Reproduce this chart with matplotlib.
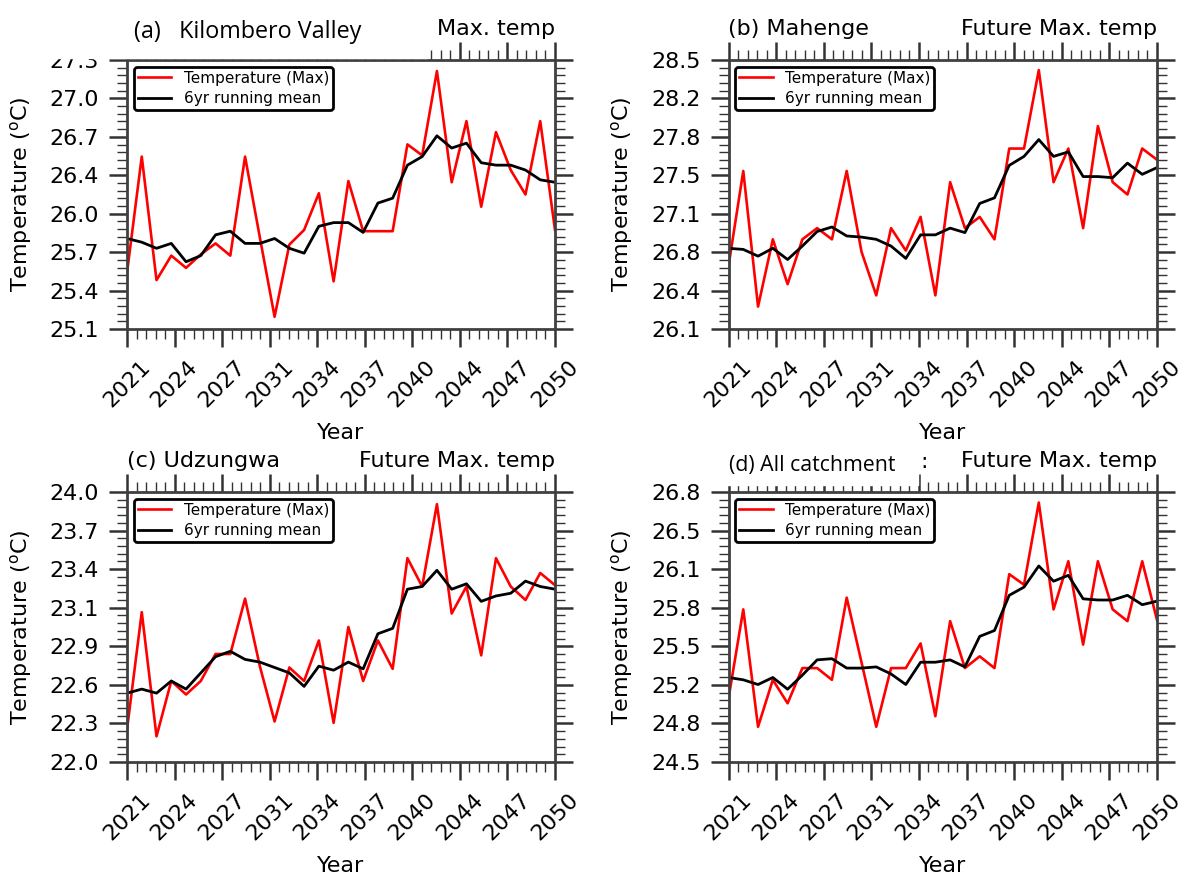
import numpy as np
import matplotlib.pyplot as plt
from matplotlib.ticker import AutoMinorLocator
from matplotlib.patches import Rectangle

plt.rcParams['mathtext.default'] = 'regular'

# years 2021-2050
years = list(range(2021, 2051))

# (a) Kilombero Valley
kv_max = [25.56, 26.51, 25.50, 25.70, 25.60, 25.71, 25.80, 25.70, 26.51, 25.85,
          25.20, 25.79, 25.91, 26.21, 25.49, 26.31, 25.90, 25.90, 25.90, 26.61,
          26.52, 27.21, 26.30, 26.80, 26.10, 26.71, 26.40, 26.20, 26.80, 25.91]
kv_mean = [25.84, 25.81, 25.76, 25.80, 25.65, 25.70, 25.87, 25.90, 25.80, 25.80,
           25.84, 25.76, 25.72, 25.94, 25.97, 25.97, 25.89, 26.13, 26.17, 26.44,
           26.51, 26.68, 26.58, 26.62, 26.46, 26.44, 26.44, 26.40, 26.32, 26.30]

# (b) Mahenge
mh_max = [26.66, 27.51, 26.30, 26.90, 26.50, 26.90, 27.00, 26.90, 27.51, 26.79,
          26.40, 27.00, 26.80, 27.10, 26.40, 27.41, 27.00, 27.10, 26.90, 27.71,
          27.71, 28.41, 27.41, 27.71, 27.00, 27.91, 27.41, 27.30, 27.71, 27.61]
mh_mean = [26.82, 26.81, 26.75, 26.82, 26.72, 26.84, 26.97, 27.01, 26.93, 26.92,
           26.90, 26.84, 26.73, 26.94, 26.94, 27.00, 26.96, 27.22, 27.27, 27.56,
           27.64, 27.79, 27.64, 27.68, 27.46, 27.46, 27.45, 27.58, 27.48, 27.54]

# (c) Udzungwa
ud_max = [22.24, 23.11, 22.19, 22.60, 22.50, 22.60, 22.80, 22.80, 23.21, 22.71,
          22.30, 22.70, 22.60, 22.90, 22.29, 23.00, 22.60, 22.90, 22.69, 23.51,
          23.30, 23.91, 23.10, 23.30, 22.79, 23.51, 23.30, 23.20, 23.40, 23.31]
ud_mean = [22.51, 22.54, 22.51, 22.60, 22.54, 22.66, 22.78, 22.82, 22.76, 22.74,
           22.70, 22.66, 22.56, 22.71, 22.68, 22.74, 22.69, 22.95, 22.99, 23.28,
           23.30, 23.42, 23.28, 23.32, 23.19, 23.23, 23.25, 23.34, 23.30, 23.28]

# (d) All catchment
ac_max = [25.04, 25.80, 24.80, 25.20, 25.00, 25.30, 25.30, 25.20, 25.90, 25.35,
          24.80, 25.30, 25.30, 25.51, 24.89, 25.70, 25.30, 25.40, 25.30, 26.10,
          26.01, 26.71, 25.80, 26.21, 25.50, 26.21, 25.80, 25.70, 26.21, 25.71]
ac_mean = [25.22, 25.20, 25.16, 25.22, 25.12, 25.24, 25.37, 25.38, 25.30, 25.30,
           25.31, 25.25, 25.16, 25.35, 25.35, 25.37, 25.31, 25.57, 25.62, 25.92,
           25.99, 26.17, 26.04, 26.09, 25.89, 25.88, 25.88, 25.92, 25.84, 25.87]

W, H = 1179, 876
fig = plt.figure(figsize=(W / 100, H / 100), dpi=100)


def box(x0, y0, x1, y1):
    # pixel box (top-left origin) -> figure fraction rect
    return [x0 / W, 1 - y1 / H, (x1 - x0) / W, (y1 - y0) / H]


panels = [
    (box(127, 60, 555, 329), kv_max, kv_mean, (25.1, 27.3), '', 'Max. temp'),
    (box(728.5, 60, 1157, 329), mh_max, mh_mean, (26.1, 28.5), '(b) Mahenge', 'Future Max. temp'),
    (box(127, 492, 555, 762), ud_max, ud_mean, (22.0, 24.0), '(c) Udzungwa', 'Future Max. temp'),
    (box(728.5, 492, 1157, 762), ac_max, ac_mean, (24.5, 26.8), '', 'Future Max. temp'),
]

for rect, tmax, tmean, (lo, hi), ltitle, rtitle in panels:
    ax = fig.add_axes(rect)
    ax.plot(years, tmax, color='red', lw=1.9, label='Temperature (Max)')
    ax.plot(years, tmean, color='black', lw=2, label='6yr running mean')
    ax.set_xlim(2021, 2050)
    ax.set_ylim(lo, hi)

    xt = np.linspace(2021, 2050, 10)
    ax.set_xticks(xt)
    ax.set_xticklabels([str(int(round(v))) for v in xt], rotation=45, ha='center')
    yt = np.linspace(lo, hi, 8)
    ax.set_yticks(yt)
    ax.set_yticklabels(['%.1f' % v for v in yt])
    ax.xaxis.set_minor_locator(AutoMinorLocator(5))
    ax.yaxis.set_minor_locator(AutoMinorLocator(5))

    ax.tick_params(which='both', direction='out', top=True, right=True,
                   labelsize=16, color='0.2')
    ax.tick_params(which='major', length=13, width=1.8, pad=7)
    ax.tick_params(which='minor', length=7, width=1)
    for s in ax.spines.values():
        s.set_linewidth(2)
        s.set_color('0.25')

    ax.set_xlabel('Year', fontsize=16)
    ax.set_ylabel('Temperature ($^o$C)', fontsize=16)
    ax.xaxis.set_label_coords(0.5, -0.35)
    ax.yaxis.set_label_coords(-0.218, 0.5)

    if ltitle:
        ax.set_title(ltitle, loc='left', fontsize=16, pad=18)
    ax.set_title(rtitle, loc='right', fontsize=16, pad=18)

    leg = ax.legend(loc='upper left', fontsize=11, framealpha=1, edgecolor='black',
                    borderpad=0.25, labelspacing=0.35, borderaxespad=0.45,
                    handlelength=2.2)
    leg.get_frame().set_linewidth(2)

# pasted-over panel labels
fig.add_artist(Rectangle((0, 1 - 57.5 / H), 427 / W, 57.5 / H,
                         transform=fig.transFigure, color='white', zorder=5))
fig.text(134 / W, 1 - 37.5 / H, '(a)   Kilombero Valley', family='Open Sans',
         fontsize=16.8, va='baseline', ha='left', zorder=6)

fig.add_artist(Rectangle((700 / W, 1 - 485 / H), 218 / W, 40 / H,
                         transform=fig.transFigure, color='white', zorder=5))
fig.text(729 / W, 1 - 470.5 / H, '(d) All catchment', family='Open Sans',
         fontsize=15.3, va='baseline', ha='left', zorder=6)
fig.text(924 / W, 1 - 468 / H, ':', fontsize=16, va='baseline', ha='center', zorder=6)

fig.savefig('out.png', dpi=100)
